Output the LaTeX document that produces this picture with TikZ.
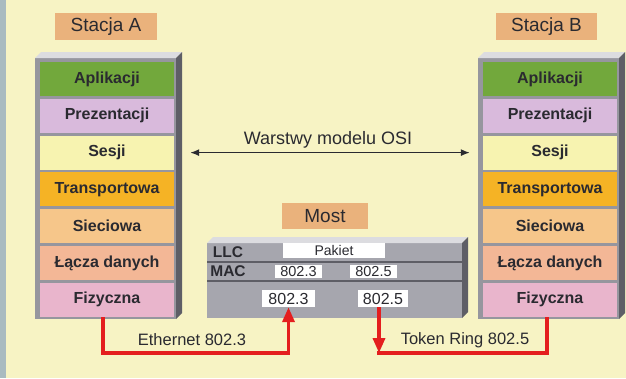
\documentclass[tikz,border=0pt]{standalone}
\usepackage{fontspec}
\setmainfont{Liberation Sans}
\usetikzlibrary{arrows.meta}

% palette
\definecolor{paper}{HTML}{F7F3C4}
\definecolor{edgeblue}{HTML}{A9BAC0}
\definecolor{ink}{HTML}{2A2A30}
\definecolor{tagfill}{HTML}{EAB27C}
\definecolor{bodyfront}{HTML}{96969E}
\definecolor{bodytop}{HTML}{DCDCE0}
\definecolor{bodyside}{HTML}{5E5E66}
\definecolor{bridgefront}{HTML}{A6A6AE}
\definecolor{linkred}{HTML}{E41E1E}
\definecolor{cApl}{HTML}{72A83C}
\definecolor{cPrez}{HTML}{D9BADC}
\definecolor{cSes}{HTML}{F7F3B0}
\definecolor{cTrans}{HTML}{F5B325}
\definecolor{cSiec}{HTML}{F6C68A}
\definecolor{cLacz}{HTML}{F3B796}
\definecolor{cFiz}{HTML}{E9B5CC}

\begin{document}
\begin{tikzpicture}[x=1pt,y=-1pt,
  layerbox/.style={minimum width=134pt,minimum height=34pt,inner sep=0pt,
    text=ink,font=\fontsize{16}{18}\selectfont\bfseries},
  tag/.style={fill=tagfill,inner sep=0pt,text=ink,font=\fontsize{19}{21}\selectfont},
  wbox/.style={fill=white,inner sep=0pt,text=ink},
  rowlabel/.style={inner sep=0pt,text=ink,font=\fontsize{15.5}{17}\selectfont\bfseries},
  netlabel/.style={inner sep=0pt,text=ink,font=\fontsize{16.5}{18}\selectfont},
  redlink/.style={draw=linkred,line width=3.5pt},
  redarrow/.style={redlink,-{Triangle[length=15pt,width=12pt]}},
  osiarrow/.style={draw=ink,line width=1.3pt,{Latex[length=9pt,width=7pt]}-{Latex[length=9pt,width=7pt]}}
]
% page
\fill[paper] (0,0) rectangle (626,378);
\useasboundingbox (0,0) rectangle (626,378);
\fill[edgeblue] (0,0) rectangle (6,378);

% station A body
\fill[bodyfront] (35,58) rectangle (176,319);
\fill[bodytop] (35,58) -- (41,52) -- (182,52) -- (176,58) -- cycle;
\fill[bodyside] (176,58) -- (182,52) -- (182,313) -- (176,319) -- cycle;
% station B body
\fill[bodyfront] (478,58) rectangle (619,319);
\fill[bodytop] (478,58) -- (484,52) -- (625,52) -- (619,58) -- cycle;
\fill[bodyside] (619,58) -- (625,52) -- (625,313) -- (619,319) -- cycle;

% OSI layers of both stations
\foreach \n/\t/\c [count=\i from 0] in {1/Aplikacji/cApl,2/Prezentacji/cPrez,
    3/Sesji/cSes,4/Transportowa/cTrans,5/Sieciowa/cSiec,6/Łącza danych/cLacz,
    7/Fizyczna/cFiz}{
  \node[layerbox,fill=\c] (A\n) at (107,{79+36.8*\i}) {\t};
  \node[layerbox,fill=\c] (B\n) at (550,{79+36.8*\i}) {\t};
}

% station captions
\node[tag,minimum width=102pt,minimum height=27pt] (stA) at (106,26.5) {Stacja A};
\node[tag,minimum width=101pt,minimum height=27pt] (stB) at (546.5,26.5) {Stacja B};

% OSI arrow
\node[inner sep=0pt,text=ink,font=\fontsize{18}{20}\selectfont] (osi) at (328,140) {Warstwy modelu OSI};
\draw[osiarrow,shorten <=16pt,shorten >=13pt] (A3.east) -- (B3.west);

% bridge
\node[tag,minimum width=86pt,minimum height=26pt] (most) at (325,216) {Most};
\fill[bridgefront] (207,243) rectangle (462,318);
\fill[bodytop] (207,243) -- (213,237) -- (468,237) -- (462,243) -- cycle;
\fill[bodyside] (462,243) -- (468,237) -- (468,312) -- (462,318) -- cycle;
\draw[bodyside,line width=2pt] (207,262) -- (462,262);
\draw[bodyside,line width=2pt] (207,281) -- (462,281);

\node[rowlabel] (llc) at (228,252.5) {LLC};
\node[rowlabel] (mac) at (228,271.5) {MAC};
\node[wbox,minimum width=102pt,minimum height=15pt,font=\fontsize{14}{16}\selectfont] (pak) at (334,250.5) {Pakiet};
\node[wbox,minimum width=47pt,minimum height=13pt,font=\fontsize{14.5}{16}\selectfont] (mac3) at (298.5,271.5) {802.3};
\node[wbox,minimum width=47pt,minimum height=13pt,font=\fontsize{14.5}{16}\selectfont] (mac5) at (373.5,271.5) {802.5};
\node[wbox,minimum width=53pt,minimum height=17pt,font=\fontsize{16}{18}\selectfont] (b3) at (288.5,298.5) {802.3};
\node[wbox,minimum width=50pt,minimum height=17pt,font=\fontsize{16}{18}\selectfont] (b5) at (383,298.5) {802.5};

% physical links
\coordinate (rail) at (0,353);
\draw[redarrow] ([xshift=-4pt]A7.south) |- (rail -| b3.south) -- (b3.south);
\draw[redarrow] ([xshift=-4pt]b5.south) -- ([xshift=-4pt]rail -| b5.south);
\draw[redlink] ([xshift=-5.75pt]rail -| b5.south) -| ([xshift=-3pt]B7.south);

\node[netlabel] (eth) at (192,340) {Ethernet 802.3};
\node[netlabel] (tok) at (465,340) {Token Ring 802.5};
\end{tikzpicture}
\end{document}
